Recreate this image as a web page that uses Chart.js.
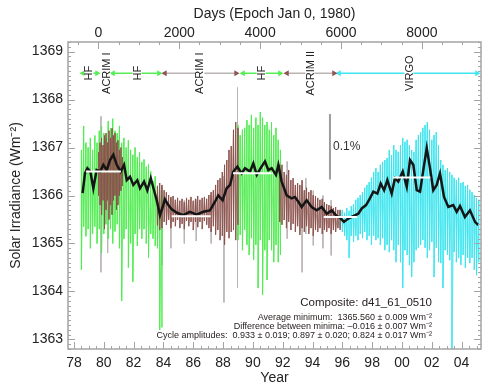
<!DOCTYPE html>
<html>
<head>
<meta charset="utf-8">
<script src="https://cdn.jsdelivr.net/npm/chart.js@4.4.1/dist/chart.umd.min.js"></script>
<style>
  html, body { margin: 0; padding: 0; background: #fff; }
</style>
</head>
<body>
<canvas id="tsiChart" width="491" height="385"></canvas>
<script>
// Composite TSI (d41_61_0510)

// HF (Nimbus-7) first stretch: upper / lower reach of the daily values
const hf1Years = [78.50, 78.65, 78.80, 78.95, 79.10, 79.25, 79.40, 79.55, 79.70, 79.85, 80.00, 80.15, 80.30, 80.45, 80.60, 80.75, 80.90, 81.05, 81.20, 81.35, 81.50, 81.65, 81.80, 81.95, 82.10, 82.25, 82.40, 82.55, 82.70, 82.85, 83.00, 83.15, 83.30, 83.45, 83.60, 83.75, 83.90];
const hf1High = [1366.95, 1367.45, 1367.10, 1367.00, 1367.20, 1366.95, 1367.25, 1367.10, 1367.35, 1367.45, 1367.30, 1367.20, 1367.55, 1367.40, 1367.60, 1367.35, 1367.30, 1367.45, 1367.10, 1367.20, 1367.00, 1367.15, 1366.95, 1366.85, 1367.00, 1366.80, 1366.90, 1366.70, 1366.75, 1366.60, 1366.65, 1366.50, 1366.30, 1366.40, 1366.20, 1366.10, 1366.00];
const hf1Low = [1364.45, 1365.35, 1365.15, 1365.30, 1364.90, 1365.20, 1365.35, 1365.00, 1365.30, 1364.80, 1365.20, 1365.40, 1365.10, 1365.30, 1365.00, 1365.25, 1365.40, 1364.90, 1363.80, 1365.10, 1365.30, 1364.50, 1365.00, 1364.20, 1365.20, 1364.95, 1365.30, 1365.10, 1365.30, 1365.00, 1364.70, 1365.20, 1365.10, 1364.95, 1364.90, 1363.20, 1363.25];

// ACRIM I, early part laid over HF
const acrimEarlyYears = [79.65, 79.75, 79.85, 79.95, 80.05, 80.15, 80.25, 80.35, 80.45, 80.55, 80.65, 80.75, 80.85, 80.95, 81.05, 81.15, 81.25];
const acrimEarlyHigh = [1366.90, 1367.10, 1367.20, 1367.05, 1367.25, 1367.30, 1367.10, 1367.35, 1367.20, 1367.40, 1367.25, 1367.30, 1367.10, 1367.15, 1366.95, 1367.00, 1366.80];
const acrimEarlyLow = [1366.00, 1365.80, 1365.60, 1365.90, 1365.30, 1365.70, 1365.90, 1365.50, 1365.80, 1365.60, 1365.90, 1366.00, 1365.70, 1365.80, 1366.00, 1366.10, 1366.20];

// ACRIM I
const acrim1Years = [83.60, 83.75, 83.90, 84.05, 84.20, 84.35, 84.50, 84.65, 84.80, 84.95, 85.10, 85.25, 85.40, 85.55, 85.70, 85.85, 86.00, 86.15, 86.30, 86.45, 86.60, 86.75, 86.90, 87.05, 87.20, 87.35, 87.50, 87.65, 87.80, 87.95, 88.10, 88.25, 88.40, 88.55, 88.70, 88.85, 89.00];
const acrim1High = [1366.20, 1366.26, 1366.22, 1366.11, 1366.07, 1366.01, 1365.97, 1365.99, 1365.91, 1365.95, 1365.89, 1365.93, 1365.86, 1365.95, 1365.91, 1365.97, 1365.89, 1365.93, 1365.99, 1365.91, 1365.95, 1365.97, 1365.93, 1366.01, 1366.07, 1366.11, 1366.22, 1366.32, 1366.36, 1366.49, 1366.64, 1366.74, 1366.95, 1367.03, 1367.37, 1367.53, 1367.41];
const acrim1Low = [1365.38, 1365.28, 1365.32, 1365.45, 1365.39, 1365.49, 1365.32, 1365.45, 1365.36, 1365.49, 1365.32, 1365.41, 1365.30, 1365.47, 1365.36, 1365.45, 1365.28, 1365.45, 1365.34, 1365.45, 1365.30, 1365.47, 1365.39, 1365.32, 1365.24, 1365.36, 1365.18, 1365.28, 1365.07, 1365.16, 1364.97, 1365.24, 1365.11, 1365.24, 1365.28, 1365.07, 1365.39];

// HF second stretch
const hf2Years = [89.00, 89.15, 89.30, 89.45, 89.60, 89.75, 89.90, 90.05, 90.20, 90.35, 90.50, 90.65, 90.80, 90.95, 91.10, 91.25, 91.40, 91.55, 91.70, 91.85];
const hf2High = [1367.47, 1367.26, 1367.37, 1367.41, 1367.57, 1367.47, 1367.68, 1367.41, 1367.62, 1367.47, 1367.74, 1367.62, 1367.47, 1367.53, 1367.37, 1367.53, 1367.26, 1367.41, 1367.16, 1366.95];
const hf2Low = [1365.07, 1365.18, 1364.86, 1365.28, 1364.97, 1364.76, 1365.11, 1364.66, 1364.97, 1364.07, 1365.07, 1363.93, 1364.86, 1364.24, 1365.07, 1364.86, 1364.61, 1364.97, 1364.61, 1364.76];

// ACRIM II
const acrim2Years = [91.80, 91.95, 92.10, 92.25, 92.40, 92.55, 92.70, 92.85, 93.00, 93.15, 93.30, 93.45, 93.60, 93.75, 93.90, 94.05, 94.20, 94.35, 94.50, 94.65, 94.80, 94.95, 95.10, 95.25, 95.40, 95.55, 95.70, 95.85];
const acrim2High = [1366.64, 1366.64, 1366.49, 1366.43, 1366.53, 1366.32, 1366.36, 1366.22, 1366.26, 1366.22, 1366.32, 1366.11, 1366.16, 1366.07, 1366.11, 1366.01, 1365.99, 1365.95, 1365.91, 1365.93, 1365.86, 1365.82, 1365.80, 1365.78, 1365.74, 1365.76, 1365.70, 1365.70];
const acrim2Low = [1365.45, 1365.39, 1365.49, 1365.32, 1365.45, 1365.28, 1365.41, 1365.24, 1365.36, 1365.18, 1365.32, 1365.24, 1365.36, 1365.20, 1365.32, 1365.16, 1365.28, 1365.24, 1365.32, 1365.20, 1365.28, 1365.24, 1365.32, 1365.20, 1365.28, 1365.24, 1365.32, 1365.28];

// VIRGO
const virgoYears = [95.85, 96.00, 96.15, 96.30, 96.45, 96.60, 96.75, 96.90, 97.05, 97.20, 97.35, 97.50, 97.65, 97.80, 97.95, 98.10, 98.25, 98.40, 98.55, 98.70, 98.85, 99.00, 99.15, 99.30, 99.45, 99.60, 99.75, 99.90, 100.05, 100.20, 100.35, 100.50, 100.65, 100.80, 100.95, 101.10, 101.25, 101.40, 101.55, 101.70, 101.85, 102.00, 102.15, 102.30, 102.45, 102.60, 102.75, 102.90, 103.05, 103.20, 103.35, 103.50, 103.65, 103.80, 103.95, 104.10, 104.25, 104.40, 104.55, 104.70, 104.85, 105.00, 105.15];
const virgoHigh = [1365.66, 1365.70, 1365.64, 1365.74, 1365.68, 1365.78, 1365.82, 1365.91, 1365.95, 1366.01, 1366.07, 1366.16, 1366.22, 1366.28, 1366.37, 1366.49, 1366.57, 1366.49, 1366.64, 1366.70, 1366.74, 1366.78, 1366.95, 1366.84, 1367.05, 1366.95, 1366.91, 1367.05, 1367.20, 1367.12, 1367.16, 1367.05, 1366.95, 1366.91, 1367.16, 1367.26, 1367.32, 1367.41, 1367.47, 1367.53, 1367.37, 1367.16, 1367.26, 1367.32, 1367.05, 1366.74, 1366.64, 1366.53, 1366.57, 1366.49, 1366.43, 1366.37, 1366.32, 1366.37, 1366.26, 1366.28, 1366.20, 1366.22, 1366.12, 1366.07, 1366.01, 1365.95, 1365.91];
const virgoLow = [1365.32, 1365.24, 1365.16, 1365.07, 1364.70, 1365.16, 1365.03, 1365.16, 1365.07, 1365.20, 1365.11, 1365.24, 1365.07, 1365.16, 1364.97, 1365.16, 1365.07, 1365.11, 1364.97, 1365.11, 1364.86, 1364.97, 1364.82, 1365.07, 1364.86, 1364.61, 1364.97, 1364.61, 1364.07, 1364.86, 1364.76, 1364.55, 1364.30, 1364.61, 1364.86, 1364.91, 1364.97, 1365.07, 1364.91, 1364.70, 1364.86, 1365.03, 1364.30, 1364.91, 1364.61, 1364.59, 1364.07, 1364.86, 1364.76, 1364.65, 1362.80, 1364.82, 1364.61, 1364.70, 1364.55, 1364.76, 1364.49, 1364.70, 1364.59, 1364.70, 1364.45, 1364.34, 1364.61];

// single grey spikes (uncorrected ACRIM days)
const spikeYears = [79.81, 80.26, 83.90, 84.50, 85.40, 86.20, 87.20, 88.06, 88.97, 92.30, 93.30, 93.55, 94.05, 94.70, 95.25];
const spikeTop = [1367.65, 1367.00, 1366.18, 1365.95, 1365.90, 1365.92, 1366.00, 1366.40, 1368.25, 1366.71, 1366.20, 1366.36, 1366.10, 1366.00, 1365.90];
const spikeBottom = [1364.40, 1364.80, 1364.55, 1364.90, 1365.00, 1365.05, 1365.00, 1363.77, 1364.08, 1365.10, 1364.40, 1365.20, 1364.96, 1364.90, 1364.75];

// 81-day running mean
const smoothYears = [78.58, 78.74, 78.90, 79.10, 79.30, 79.52, 79.75, 79.97, 80.20, 80.42, 80.64, 80.87, 81.13, 81.36, 81.54, 81.76, 81.98, 82.25, 82.43, 82.70, 82.92, 83.15, 83.37, 83.55, 83.77, 83.95, 84.10, 84.33, 84.56, 84.90, 85.33, 85.78, 86.23, 86.67, 87.12, 87.46, 87.68, 87.97, 88.24, 88.47, 88.69, 88.96, 89.25, 89.47, 89.81, 90.03, 90.26, 90.52, 90.81, 91.04, 91.26, 91.55, 91.71, 91.93, 92.27, 92.60, 92.82, 93.05, 93.27, 93.61, 93.94, 94.28, 94.62, 94.95, 95.29, 95.62, 95.84, 96.11, 96.40, 96.73, 97.07, 97.30, 97.59, 97.85, 98.08, 98.35, 98.57, 98.80, 99.02, 99.31, 99.53, 99.75, 100.05, 100.32, 100.54, 100.76, 100.99, 101.21, 101.43, 101.66, 101.88, 102.10, 102.33, 102.55, 102.82, 103.11, 103.44, 103.67, 103.89, 104.22, 104.56, 104.90, 105.12];
const smoothValues = [1366.05, 1366.46, 1366.57, 1366.50, 1366.15, 1366.53, 1366.50, 1366.64, 1366.53, 1366.74, 1366.85, 1366.64, 1366.50, 1366.64, 1366.32, 1366.39, 1366.22, 1366.32, 1366.15, 1366.29, 1366.11, 1366.36, 1366.11, 1365.90, 1365.59, 1365.76, 1365.92, 1365.80, 1365.71, 1365.64, 1365.59, 1365.66, 1365.60, 1365.66, 1365.69, 1365.87, 1366.00, 1365.90, 1366.15, 1366.22, 1366.50, 1366.60, 1366.46, 1366.57, 1366.50, 1366.67, 1366.43, 1366.57, 1366.71, 1366.53, 1366.57, 1366.43, 1366.64, 1366.29, 1366.00, 1365.94, 1365.97, 1365.87, 1365.76, 1365.90, 1365.76, 1365.69, 1365.76, 1365.62, 1365.69, 1365.57, 1365.54, 1365.45, 1365.52, 1365.57, 1365.62, 1365.73, 1365.80, 1365.94, 1366.08, 1366.04, 1366.25, 1366.11, 1366.32, 1366.04, 1366.36, 1366.29, 1366.50, 1366.18, 1366.74, 1366.64, 1366.11, 1366.08, 1366.53, 1366.99, 1366.57, 1366.11, 1366.22, 1366.46, 1365.97, 1365.76, 1365.80, 1365.66, 1365.78, 1365.55, 1365.69, 1365.45, 1365.38];

// cycle maxima / minima levels (white bars)
const levelStart = [78.80, 84.55, 88.67, 94.75, 99.40];
const levelEnd = [81.15, 87.17, 91.26, 97.00, 101.90];
const levelValue = [1366.501, 1365.568, 1366.465, 1365.552, 1366.376];

// instrument bar on top
const instLevel = 1368.55;
const instStart = [78.60, 80.62, 84.10, 89.34, 92.29, 95.78];
const instEnd = [79.55, 83.70, 88.87, 91.82, 95.44, 105.03];
const instNames = ['HF', 'ACRIM I', 'HF', 'ACRIM I', 'HF', 'ACRIM II', 'VIRGO'];
const instNameYears = [79.00, 80.15, 82.23, 86.45, 90.55, 93.83, 100.47];

// day-axis tick labels
const dayTicks = [0, 2000, 4000, 6000, 8000];

// 0.1 % scale bar
const scaleBarYear = 95.17;
const scaleBarTop = 1367.70;
const scaleBarBottom = 1366.334;

const FONT = '"Liberation Sans", Arial, Helvetica, sans-serif';
const GREEN = 'rgba(80, 236, 80, 0.9)';
const BROWN = 'rgba(140, 82, 76, 0.85)';
const GREY = '#bbb4b4';
const CYAN = 'rgba(60, 228, 238, 0.9)';

function zigzag(years, high, low) {
    const pts = [];
    years.forEach((t, i) => {
        pts.push({ x: t, y: high[i] }, { x: t, y: low[i] });
    });
    return pts;
}

function strokes(years, top, bottom) {
    const pts = [];
    years.forEach((t, i) => {
        pts.push({ x: t, y: top[i] }, { x: t, y: bottom[i] }, { x: t, y: null });
    });
    return pts;
}

function lineSet(data, color, width, order) {
    return {
        type: 'line',
        data,
        borderColor: color,
        borderWidth: width,
        pointRadius: 0,
        fill: false,
        tension: 0,
        spanGaps: false,
        order
    };
}

const datasets = [];

// white level bars
levelStart.forEach((s, i) => {
    datasets.push(lineSet([{ x: s, y: levelValue[i] }, { x: levelEnd[i], y: levelValue[i] }], '#ffffff', 2, 1));
});

datasets.push(lineSet(smoothYears.map((t, i) => ({ x: t, y: smoothValues[i] })), '#151515', 2.5, 2));
datasets.push(lineSet(zigzag(acrimEarlyYears, acrimEarlyHigh, acrimEarlyLow), BROWN, 0.8, 3));
datasets.push(lineSet(zigzag(acrim1Years, acrim1High, acrim1Low), BROWN, 0.8, 3));
datasets.push(lineSet(zigzag(acrim2Years, acrim2High, acrim2Low), BROWN, 0.8, 3));
datasets.push(lineSet(zigzag(hf1Years, hf1High, hf1Low), GREEN, 0.8, 4));
datasets.push(lineSet(zigzag(hf2Years, hf2High, hf2Low), GREEN, 0.8, 4));
datasets.push(lineSet(zigzag(virgoYears, virgoHigh, virgoLow), CYAN, 0.8, 4));
datasets.push(lineSet(strokes(spikeYears, spikeTop, spikeBottom), GREY, 1, 5));
datasets.push(lineSet([{ x: scaleBarYear, y: scaleBarTop }, { x: scaleBarYear, y: scaleBarBottom }], '#9c9c9c', 2, 1));

// instrument arrows
const instLine = ['#55ec55', '#55ec55', GREY, '#55ec55', GREY, '#40e6ef'];
const instArrow = ['#55ec55', '#55ec55', '#8e5550', '#55ec55', '#8e5550', '#40e6ef'];
instStart.forEach((s, i) => {
    datasets.push({
        type: 'line',
        data: [{ x: s, y: instLevel }, { x: instEnd[i], y: instLevel }],
        borderColor: instLine[i],
        borderWidth: 1.5,
        pointStyle: 'triangle',
        pointRadius: 3.5,
        pointRotation: [-90, 90],
        pointBackgroundColor: instArrow[i],
        pointBorderColor: instArrow[i],
        pointBorderWidth: 0,
        order: 0
    });
});

// frame, inward ticks, rotated instrument names and notes
const decorations = {
    id: 'decorations',
    afterDatasetsDraw(chart) {
        const { ctx, chartArea: a, scales } = chart;
        const xs = scales.x, ys = scales.y, ds = scales.days;
        ctx.save();

        // instrument names
        ctx.font = '11px ' + FONT;
        ctx.textAlign = 'center';
        ctx.textBaseline = 'middle';
        instNames.forEach((name, i) => {
            const px = xs.getPixelForValue(instNameYears[i]);
            const py = ys.getPixelForValue(instLevel);
            const w = ctx.measureText(name).width;
            ctx.save();
            ctx.translate(px, py);
            ctx.rotate(-Math.PI / 2);
            ctx.fillStyle = '#fff';
            ctx.fillRect(-w / 2 - 2, -4.5, w + 4, 9);
            ctx.fillStyle = '#222';
            ctx.fillText(name, 0, 0.5);
            ctx.restore();
        });

        // 0.1% label
        ctx.textAlign = 'left';
        ctx.font = '12px ' + FONT;
        ctx.fillStyle = '#333';
        ctx.fillText('0.1%', xs.getPixelForValue(scaleBarYear) + 3, ys.getPixelForValue((scaleBarTop + scaleBarBottom) / 2));

        // ticks
        ctx.strokeStyle = '#a4a4a4';
        ctx.lineWidth = 1;
        const tick = (px, py, dx, dy) => {
            ctx.beginPath();
            ctx.moveTo(px, py);
            ctx.lineTo(px + dx, py + dy);
            ctx.stroke();
        };
        for (let k = 13628; k <= 13692; k++) {
            const len = k % 10 === 0 ? 7 : 3;
            const py = Math.round(ys.getPixelForValue(k / 10)) + 0.5;
            tick(a.left, py, len, 0);
            tick(a.right, py, -len, 0);
        }
        for (let k = 156; k <= 210; k++) {
            const len = k % 4 === 0 ? 7 : 3;
            const px = Math.round(xs.getPixelForValue(k / 2)) + 0.5;
            tick(px, a.bottom, 0, -len);
        }
        for (let d = -500; d <= 9000; d += 500) {
            const len = d % 2000 === 0 ? 7 : 3;
            const px = Math.round(ds.getPixelForValue(d)) + 0.5;
            tick(px, a.top, 0, len);
        }
        ctx.lineWidth = 1.5;
        ctx.strokeRect(a.left, a.top, a.right - a.left, a.bottom - a.top);

        // notes
        ctx.fillStyle = '#2a2222';
        ctx.textAlign = 'right';
        ctx.textBaseline = 'middle';
        ctx.font = '11.5px ' + FONT;
        ctx.fillText('Composite: d41_61_0510', 432, 303);
        ctx.font = '9px ' + FONT;
        ctx.fillText('Average minimum:  1365.560 \u00b1 0.009 Wm\u207b\u00b2', 432, 318);
        ctx.fillText('Difference between minima: \u20130.016 \u00b1 0.007 Wm\u207b\u00b2', 432, 327);
        ctx.fillText('Cycle amplitudes:  0.933 \u00b1 0.019; 0.897 \u00b1 0.020; 0.824 \u00b1 0.017 Wm\u207b\u00b2', 432, 336);
        ctx.restore();
    }
};

const axisFont = { family: FONT, size: 14 };
const titleFont = { family: FONT, size: 14, lineHeight: 1 };

new Chart(document.getElementById('tsiChart'), {
    type: 'line',
    data: { datasets },
    options: {
        responsive: false,
        animation: false,
        layout: { padding: { right: 10 } },
        plugins: {
            legend: { display: false },
            tooltip: { enabled: false }
        },
        scales: {
            x: {
                type: 'linear',
                position: 'bottom',
                min: 77.6,
                max: 105.3,
                offset: false,
                grid: { display: false, drawTicks: false },
                border: { display: false },
                ticks: {
                    stepSize: 2,
                    includeBounds: false,
                    autoSkip: false,
                    maxRotation: 0,
                    padding: 6,
                    color: '#222',
                    font: axisFont,
                    callback: v => String(v % 100).padStart(2, '0')
                },
                title: { display: true, text: 'Year', color: '#222', font: titleFont, padding: { top: 0, bottom: 0 } },
                afterFit: s => { s.height = 36; }
            },
            days: {
                type: 'linear',
                position: 'top',
                min: -749,
                max: 9461,
                grid: { display: false, drawTicks: false },
                border: { display: false },
                afterBuildTicks: s => { s.ticks = dayTicks.map(v => ({ value: v })); },
                ticks: {
                    autoSkip: false,
                    maxRotation: 0,
                    padding: 0,
                    color: '#222',
                    font: axisFont,
                    callback: v => String(v)
                },
                title: { display: true, text: 'Days (Epoch Jan 0, 1980)', color: '#222', font: titleFont, padding: { top: 7, bottom: 0 } },
                afterFit: s => { s.height = 42; }
            },
            y: {
                type: 'linear',
                min: 1362.8,
                max: 1369.2,
                grid: { display: false, drawTicks: false },
                border: { display: false },
                ticks: {
                    stepSize: 1,
                    includeBounds: false,
                    padding: 5,
                    color: '#222',
                    font: axisFont,
                    callback: v => String(v)
                },
                title: { display: true, text: 'Solar Irradiance (Wm\u207b\u00b2)', color: '#222', font: titleFont, padding: { top: 9, bottom: 0 } },
                afterFit: s => { s.width = 68; }
            }
        }
    },
    plugins: [decorations]
});
</script>
</body>
</html>
